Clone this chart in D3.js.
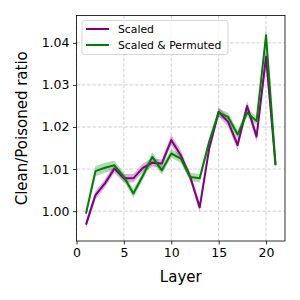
<!DOCTYPE html>
<html>
<head>
<meta charset="utf-8">
<script src="https://cdn.jsdelivr.net/npm/d3@7"></script>
<style>
  body { margin: 0; background: #fff; }
  text { font-family: "DejaVu Sans", sans-serif; fill: #000; }
</style>
</head>
<body>
<svg width="300" height="300"></svg>
<script>
// data
const layers = [1, 2, 3, 4, 5, 6, 7, 8, 9, 10, 11, 12, 13, 14, 15, 16, 17, 18, 19, 20, 21];
const scaled = [0.9968, 1.0038, 1.0066, 1.0101, 1.0078, 1.0078, 1.0103, 1.0115, 1.0113, 1.0169, 1.0133,
                1.0081, 1.0009, 1.0149, 1.0236, 1.0212, 1.0157, 1.0250, 1.0177, 1.0367, 1.0109];
const scaled_err = [0.0010, 0.0010, 0.0010, 0.0010, 0.0010, 0.0010, 0.0010, 0.0010, 0.0010, 0.0012, 0.0011,
                    0.0010, 0.0012, 0.0010, 0.0011, 0.0011, 0.0012, 0.0012, 0.0012, 0.0028, 0.0010];
const permuted = [0.9994, 1.0095, 1.0103, 1.0109, 1.0081, 1.0042, 1.0084, 1.0129, 1.0097, 1.0137, 1.0125,
                  1.0081, 1.0078, 1.0165, 1.0234, 1.0224, 1.0182, 1.0234, 1.0214, 1.0418, 1.0111];
const permuted_err = [0.0009, 0.0012, 0.0012, 0.0011, 0.0010, 0.0010, 0.0010, 0.0011, 0.0010, 0.0010, 0.0010,
                      0.0010, 0.0010, 0.0010, 0.0010, 0.0010, 0.0010, 0.0010, 0.0010, 0.0016, 0.0010];
const x_ticks = [0, 5, 10, 15, 20];
const y_ticks = [1.00, 1.01, 1.02, 1.03, 1.04];

(function(){
const svg = d3.select("svg");
const m_left = 76.5, m_right = 285, m_top = 15.5, m_bottom = 241;

const x = d3.scaleLinear().domain([0, 22]).range([m_left, m_right]);
const y = d3.scaleLinear().domain([0.9929, 1.0465]).range([m_bottom, m_top]);

// grid
svg.append("g").selectAll("line").data(x_ticks).join("line")
   .attr("x1", d => x(d)).attr("x2", d => x(d))
   .attr("y1", m_top).attr("y2", m_bottom)
   .attr("stroke", "#b0b0b0").attr("stroke-width", 0.8)
   .attr("stroke-dasharray", "3.7,1.6").attr("opacity", 0.7);
svg.append("g").selectAll("line").data(y_ticks).join("line")
   .attr("x1", m_left).attr("x2", m_right)
   .attr("y1", d => y(d)).attr("y2", d => y(d))
   .attr("stroke", "#b0b0b0").attr("stroke-width", 0.8)
   .attr("stroke-dasharray", "3.7,1.6").attr("opacity", 0.7);

const series = [
  {name: "Scaled", values: scaled, err: scaled_err, color: "purple"},
  {name: "Scaled & Permuted", values: permuted, err: permuted_err, color: "green"}
];

const area = d3.area()
   .x(d => x(d.layer))
   .y0(d => y(d.v - d.e))
   .y1(d => y(d.v + d.e));
const line = d3.line()
   .x(d => x(d.layer))
   .y(d => y(d.v));

series.forEach(function(s){
  let pts = layers.map((l, i) => ({layer: l, v: s.values[i], e: s.err[i]}));
  svg.append("path").datum(pts)
     .attr("d", area)
     .attr("fill", s.color).attr("opacity", 0.3);
});
series.forEach(function(s){
  let pts = layers.map((l, i) => ({layer: l, v: s.values[i], e: s.err[i]}));
  svg.append("path").datum(pts)
     .attr("d", line)
     .attr("fill", "none")
     .attr("stroke", s.color).attr("stroke-width", 2)
     .attr("stroke-linejoin", "round");
});

// axes
const xAxis = d3.axisBottom(x).tickValues(x_ticks).tickSize(3.5).tickPadding(3.5).tickFormat(d3.format("d"));
const yAxis = d3.axisLeft(y).tickValues(y_ticks).tickSize(3.5).tickPadding(3.5).tickFormat(d3.format(".2f"));

const gx = svg.append("g").attr("transform", `translate(0,${m_bottom})`).call(xAxis);
const gy = svg.append("g").attr("transform", `translate(${m_left},0)`).call(yAxis);
[gx, gy].forEach(function(g){
  g.select(".domain").remove();
  g.selectAll("line").attr("stroke", "#000").attr("stroke-width", 0.8);
  g.selectAll("text").attr("font-size", 12.5).attr("font-family", "DejaVu Sans");
});

// frame
svg.append("rect")
   .attr("x", m_left).attr("y", m_top)
   .attr("width", m_right - m_left).attr("height", m_bottom - m_top)
   .attr("fill", "none").attr("stroke", "#000").attr("stroke-width", 0.8);

// labels
svg.append("text")
   .attr("x", (m_left + m_right) / 2).attr("y", 282)
   .attr("text-anchor", "middle").attr("font-size", 15)
   .text("Layer");
svg.append("text")
   .attr("transform", `translate(27,${(m_top + m_bottom) / 2}) rotate(-90)`)
   .attr("text-anchor", "middle").attr("font-size", 15)
   .text("Clean/Poisoned ratio");

// legend
const lg = svg.append("g");
lg.append("rect")
  .attr("x", 82).attr("y", 20.5).attr("width", 146).attr("height", 34)
  .attr("rx", 2.5).attr("fill", "#fff").attr("fill-opacity", 0.8)
  .attr("stroke", "#ccc").attr("stroke-width", 0.8);
series.forEach(function(s, i){
  let yy = 29 + i * 16;
  lg.append("line")
    .attr("x1", 86).attr("x2", 109).attr("y1", yy).attr("y2", yy)
    .attr("stroke", s.color).attr("stroke-width", 2);
  lg.append("text")
    .attr("x", 118).attr("y", yy + 3.8)
    .attr("font-size", 10.8)
    .text(s.name);
});
})();
</script>
</body>
</html>
